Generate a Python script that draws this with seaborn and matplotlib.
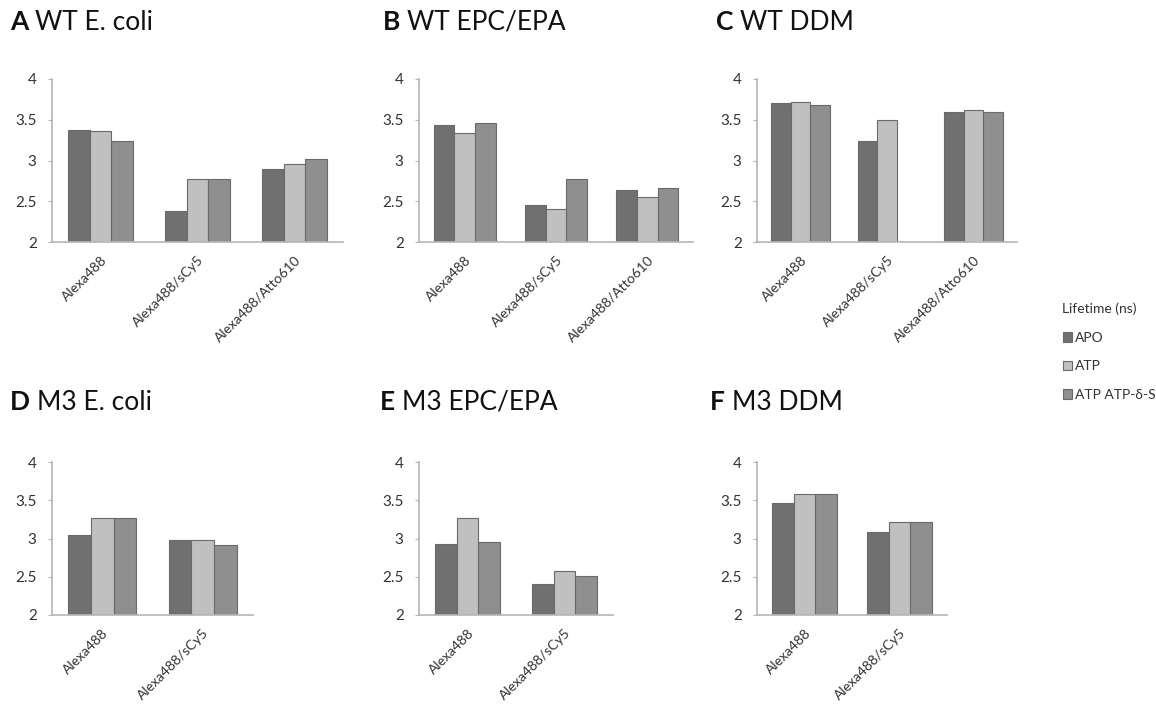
import pandas as pd
import numpy as np
import matplotlib
matplotlib.use('Agg')
import matplotlib.pyplot as plt
import seaborn as sns

# Data (lifetime in ns)
conditions = ['APO', 'ATP', 'ATP ATP-δ-S']
dyes3 = ['Alexa488', 'Alexa488/sCy5', 'Alexa488/Atto610']
dyes2 = ['Alexa488', 'Alexa488/sCy5']

wt_ecoli = [[3.38, 3.36, 3.24], [2.38, 2.77, 2.77], [2.89, 2.96, 3.02]]
wt_epc = [[3.44, 3.34, 3.46], [2.46, 2.40, 2.77], [2.64, 2.55, 2.66]]
wt_ddm = [[3.70, 3.72, 3.68], [3.24, 3.50, np.nan], [3.60, 3.62, 3.60]]
m3_ecoli = [[3.05, 3.27, 3.27], [2.98, 2.98, 2.92]]
m3_epc = [[2.93, 3.27, 2.95], [2.41, 2.58, 2.51]]
m3_ddm = [[3.47, 3.58, 3.58], [3.08, 3.22, 3.22]]

panel_letters = ['A', 'B', 'C', 'D', 'E', 'F']
panel_titles = ['WT E. coli', 'WT EPC/EPA', 'WT DDM', 'M3 E. coli', 'M3 EPC/EPA', 'M3 DDM']
panel_data = [wt_ecoli, wt_epc, wt_ddm, m3_ecoli, m3_epc, m3_ddm]
panel_dyes = [dyes3, dyes3, dyes3, dyes2, dyes2, dyes2]

palette = {'APO': '#707070', 'ATP': '#c0c0c0', 'ATP ATP-δ-S': '#8f8f8f'}

sns.set_style('white')
plt.rcParams['font.family'] = ['Lato', 'DejaVu Sans']

W, H = 1156, 711
fig = plt.figure(figsize=(W / 100, H / 100), dpi=100)

# axes boxes in pixels: left, right, top, bottom
boxes = [(52, 343, 79, 242), (419, 693, 79, 242), (757, 1017, 79, 242),
         (52, 253, 462, 615), (419, 613, 462, 615), (757, 947, 462, 615)]
title_pos = [(10, 22), (383, 22), (716, 22), (10, 402), (380, 402), (710, 402)]

renderer = fig.canvas.get_renderer()
axes = []
for i in range(6):
    rows = []
    for dye, vals in zip(panel_dyes[i], panel_data[i]):
        for cond, v in zip(conditions, vals):
            rows.append({'dye': dye, 'condition': cond, 'lifetime': v})
    df = pd.DataFrame(rows)

    l, r, t, b = boxes[i]
    ax = fig.add_axes([l / W, 1 - b / H, (r - l) / W, (b - t) / H])
    sns.barplot(data=df, x='dye', y='lifetime', hue='condition',
                hue_order=conditions, order=panel_dyes[i], palette=palette,
                width=0.68, edgecolor='#6a6a6a', linewidth=0.8, ax=ax,
                legend=(i == 0), errorbar=None)
    ax.set_ylim(2, 4)
    ax.set_yticks([2, 2.5, 3, 3.5, 4])
    ax.set_yticklabels(['2', '2.5', '3', '3.5', '4'])
    ax.set_xlim(-0.5, len(panel_dyes[i]) - 0.5)
    ax.set_xlabel('')
    ax.set_ylabel('')
    for s in ['top', 'right']:
        ax.spines[s].set_visible(False)
    for s in ['left', 'bottom']:
        ax.spines[s].set_color('#b5b5b5')
        ax.spines[s].set_linewidth(1.2)
    ax.tick_params(axis='y', left=True, length=3, color='#b5b5b5',
                   labelsize=11, labelcolor='#333333', pad=8)
    ax.tick_params(axis='x', bottom=False, labelsize=10, labelcolor='#333333', pad=5)
    plt.setp(ax.get_xticklabels(), rotation=45, ha='right', rotation_mode='anchor')
    axes.append(ax)

    # panel title: bold letter followed by normal text
    tx, ty = title_pos[i]
    lt = fig.text(tx / W, 1 - ty / H, panel_letters[i], fontsize=19,
                  fontweight='bold', va='center', ha='left', color='#111111')
    ext = lt.get_window_extent(renderer=renderer)
    fig.text((ext.x1 + 7) / W, 1 - ty / H, panel_titles[i], fontsize=19,
             va='center', ha='left', color='#111111')

# legend on the right side of the figure
handles, labels = axes[0].get_legend_handles_labels()
axes[0].get_legend().remove()
leg = fig.legend(handles, labels, title='Lifetime (ns)', loc='upper left',
                 bbox_to_anchor=(1050 / W, 1 - 290 / H), frameon=False,
                 fontsize=10, title_fontsize=10, handlelength=0.7, handleheight=0.7,
                 handletextpad=0.2, labelspacing=1.2, alignment='left')
for t in leg.get_texts():
    t.set_color('#333333')
leg.get_title().set_color('#333333')

fig.savefig('out.png', dpi=100)
